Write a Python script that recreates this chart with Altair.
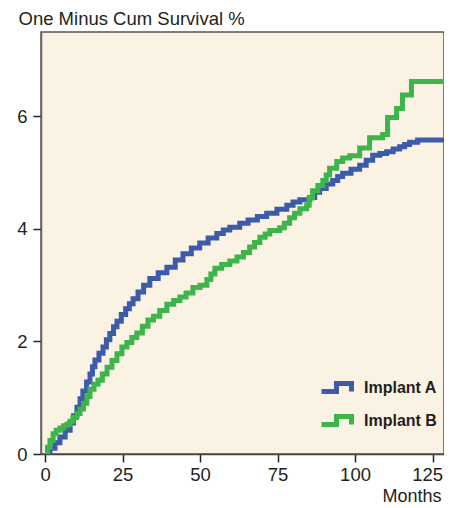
import altair as alt
import pandas as pd

# Implant A (blue) – months and one-minus-cum-survival %
a_months = [0, 1.6, 3.2, 4.8, 6.5, 8.1, 9.2, 10.3, 11.3, 12.2, 13.4, 14.5, 15.3, 16.1, 17.4,
            18.7, 19.8, 20.9, 22.1, 23.2, 24.6, 26.0, 27.2, 28.4, 30.0, 31.8, 33.8, 36.5, 39.3,
            42.0, 44.5, 47.2, 49.9, 52.6, 55.4, 57.5, 59.6, 62.8, 65.5, 68.5, 71.5, 74.8, 78.0,
            80.0, 82.2, 85.4, 87.0, 88.6, 90.7, 92.8, 94.4, 96.0, 98.7, 101.5, 103.6, 105.7,
            108.0, 110.2, 112.3, 114.4, 116.0, 117.6, 120.2, 133.0]
a_values = [0, 0.10, 0.20, 0.30, 0.42, 0.55, 0.68, 0.83, 0.98, 1.12, 1.28, 1.42, 1.55, 1.67, 1.79,
            1.90, 2.03, 2.14, 2.26, 2.36, 2.48, 2.58, 2.67, 2.76, 2.88, 3.00, 3.12, 3.22, 3.32,
            3.45, 3.56, 3.66, 3.75, 3.84, 3.92, 3.98, 4.03, 4.10, 4.16, 4.22, 4.28, 4.35, 4.42,
            4.48, 4.52, 4.56, 4.65, 4.72, 4.80, 4.86, 4.93, 4.99, 5.06, 5.13, 5.22, 5.31,
            5.34, 5.37, 5.42, 5.46, 5.50, 5.54, 5.58, 5.58]

# Implant B (green)
b_months = [0, 0.8, 1.6, 2.6, 3.6, 4.8, 6.0, 7.1, 8.0, 9.0, 10.2, 11.3, 12.4, 13.5, 14.5, 15.8,
            17.1, 18.5, 20.0, 21.6, 23.2, 24.8, 26.4, 28.0, 29.6, 31.4, 33.2, 35.0, 37.0, 39.3,
            41.5, 43.5, 45.5, 47.7, 50.0, 52.2, 53.5, 54.8, 57.0, 59.6, 61.9, 64.0, 66.0, 67.6,
            69.3, 71.0, 72.5, 75.7, 77.2, 78.9, 80.5, 82.2, 84.4, 85.2, 86.3, 88.0, 89.6, 90.7,
            91.8, 94.1, 96.0, 98.3, 101.5, 104.7, 108.9, 110.5, 113.4, 115.3, 118.2, 133.0]
b_values = [0, 0.12, 0.24, 0.36, 0.42, 0.46, 0.50, 0.53, 0.58, 0.65, 0.72, 0.80, 0.90, 1.02, 1.15,
            1.24, 1.31, 1.42, 1.54, 1.66, 1.78, 1.90, 1.98, 2.07, 2.15, 2.27, 2.38, 2.45, 2.55,
            2.66, 2.73, 2.79, 2.86, 2.96, 3.00, 3.10, 3.20, 3.30, 3.37, 3.43, 3.50, 3.58, 3.68,
            3.76, 3.85, 3.91, 3.97, 4.02, 4.10, 4.20, 4.28, 4.36, 4.42, 4.55, 4.68, 4.77, 4.86,
            4.96, 5.08, 5.20, 5.26, 5.30, 5.44, 5.62, 5.68, 5.98, 6.14, 6.38, 6.62, 6.62]

series_names = ["Implant A", "Implant B"]
series_colors = ["#3D5BAB", "#3DB54A"]
x_ticks = [0, 25, 50, 75, 100, 125]
y_ticks = [0, 2, 4, 6]

df = pd.concat([
    pd.DataFrame({"month": a_months, "value": a_values, "group": series_names[0]}),
    pd.DataFrame({"month": b_months, "value": b_values, "group": series_names[1]}),
])

font = "Liberation Sans"
txt = "#231F20"

chart = alt.Chart(df).mark_line(
    interpolate="step-after", strokeWidth=5, clip=True, strokeCap="butt"
).encode(
    x=alt.X("month:Q",
            scale=alt.Scale(domain=[-1.3, 128.7], nice=False, zero=False),
            axis=alt.Axis(values=x_ticks, title="Months", grid=False,
                          tickSize=8, tickWidth=1.5, tickColor="#222", domainColor="#444",
                          domainWidth=1.5, labelFontSize=18.5, labelFont=font, labelColor=txt,
                          labelPadding=3, labelOverlap=False, labelFlush=False,
                          labelAlign=alt.ExprRef(expr="datum.value >= 125 ? 'right' : 'center'"),
                          labelOffset=alt.ExprRef(expr="datum.value >= 125 ? 10 : 0"),
                          titleFont=font, titleFontSize=18,
                          titleFontWeight="normal", titleColor=txt, titleAlign="right",
                          titleAnchor="end", titleX=400, titleY=42, titleBaseline="middle")),
    y=alt.Y("value:Q",
            scale=alt.Scale(domain=[0, 7.5], nice=False),
            axis=alt.Axis(values=y_ticks, title="One Minus Cum Survival %", grid=False,
                          tickSize=8, tickWidth=1.5, tickColor="#222", domainColor="#666",
                          domainWidth=1.5, labelFontSize=18.5, labelFont=font, labelColor=txt,
                          labelPadding=6, titleFont=font, titleFontSize=18.5,
                          titleFontWeight="normal", titleColor=txt, titleAngle=0,
                          titleAlign="left", titleX=-23, titleY=-14, titleBaseline="middle")),
    color=alt.Color("group:N",
                    scale=alt.Scale(domain=series_names, range=series_colors),
                    legend=alt.Legend(title=None, orient="none", legendX=278, legendY=338,
                                      symbolType="M-1,0.27L0,0.27L0,-0.27L1,-0.27L1,0.27",
                                      symbolSize=900, symbolStrokeWidth=5,
                                      symbolFillColor="transparent",
                                      labelFont=font, labelFontSize=16,
                                      labelFontWeight="bold", labelColor=txt,
                                      labelOffset=10, rowPadding=1)),
).properties(
    width=403, height=422,
    autosize=alt.AutoSizeParams(type="none"),
    padding={"left": 33, "top": 24, "right": 0, "bottom": 54},
).configure_view(
    fill="#FAF2E3", stroke="#555", strokeWidth=1.5
)

chart.save("out.html", embed_options={"renderer": "svg", "actions": False})
